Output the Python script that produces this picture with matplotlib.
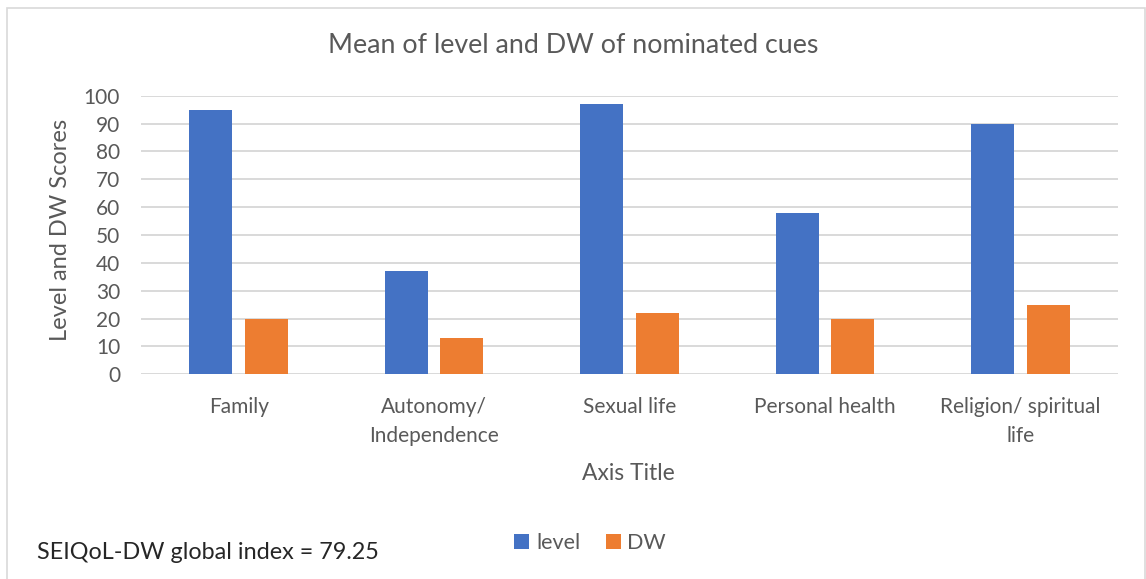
import matplotlib
matplotlib.use("Agg")
import matplotlib.pyplot as plt
import numpy as np
from matplotlib.patches import Rectangle

categories = ["Family", "Autonomy/\nIndependence", "Sexual life", "Personal health", "Religion/ spiritual\nlife"]
level = [95, 37, 97, 58, 90]
dw = [20, 13, 22, 20, 25]
yticks = [0, 10, 20, 30, 40, 50, 60, 70, 80, 90, 100]

plt.rcParams["font.family"] = ["Lato", "DejaVu Sans"]
text_color = "#595959"

fig = plt.figure(figsize=(11.46, 5.79), dpi=100)
fig.patch.set_facecolor("white")
# Chart-area frame (open at the bottom edge)
fig.add_artist(Rectangle((0.0061, -0.01), 0.993, 0.997, transform=fig.transFigure,
                         fill=False, edgecolor="#d9d9d9", linewidth=1.2))

ax = fig.add_axes([0.123, 0.3535, 0.8526, 0.4812])
x = np.arange(len(categories))
w = 0.22
gap = 0.065
ax.bar(x - (w + gap) / 2, level, width=w, color="#4472C4", label="level", zorder=3)
ax.bar(x + (w + gap) / 2, dw, width=w, color="#ED7D31", label="DW", zorder=3)

ax.set_xlim(-0.5, len(categories) - 0.5)
ax.set_ylim(0, 100)
ax.set_yticks(yticks)
ax.set_yticklabels([str(t) for t in yticks], fontsize=15, color=text_color)
ax.set_xticks(x)
ax.set_xticklabels(categories, fontsize=15, color=text_color, linespacing=1.6, va="top")
ax.tick_params(axis="y", length=0, pad=15)
ax.tick_params(axis="x", length=0, pad=16)
ax.grid(axis="y", color="#d9d9d9", linewidth=1.4, zorder=0)
for s in ax.spines.values():
    s.set_visible(False)

# Axis titles placed in figure coordinates
fig.text(0.0524, 0.603, "Level and DW Scores", fontsize=17, color=text_color,
         rotation=90, ha="center", va="center")
fig.text(0.548, 0.183, "Axis Title", fontsize=16.5, color=text_color, ha="center", va="center")
fig.text(0.5, 0.922, "Mean of level and DW of nominated cues", fontsize=19.3,
         color=text_color, ha="center", va="center")
fig.text(0.032, 0.045, "SEIQoL-DW global index = 79.25", fontsize=16.8, color="#262626",
         ha="left", va="center")

leg = fig.legend(loc="center", bbox_to_anchor=(0.515, 0.062), ncol=2, frameon=False,
                 fontsize=15.5, handlelength=0.7, handleheight=0.7, handletextpad=0.3,
                 columnspacing=1.2)
for t in leg.get_texts():
    t.set_color(text_color)

fig.savefig("out.png", dpi=100, facecolor="white")
